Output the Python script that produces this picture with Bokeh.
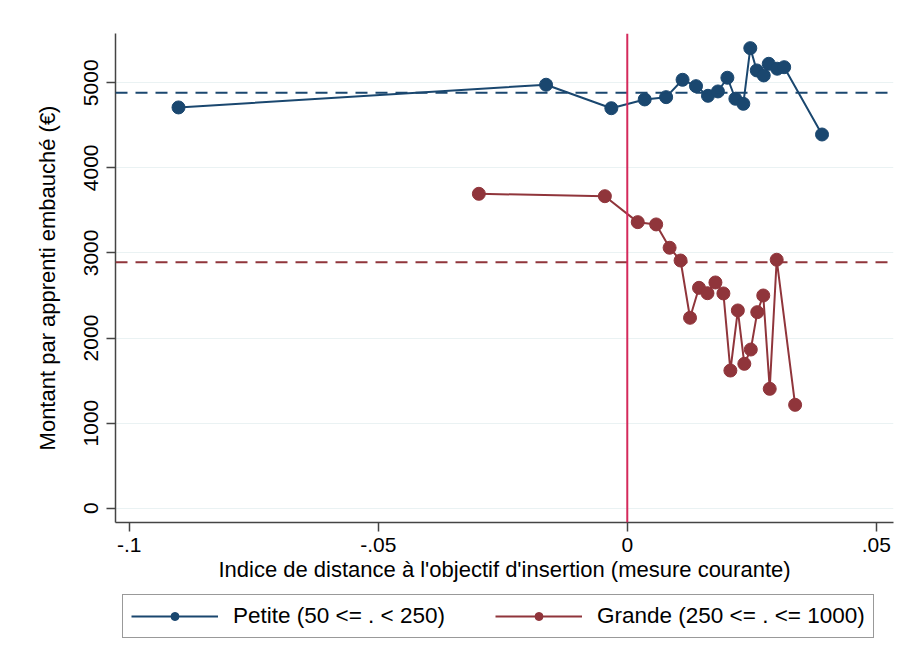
from bokeh.plotting import figure
from bokeh.layouts import column
from bokeh.models import (Span, Legend, LegendItem, FixedTicker, Range1d)
from bokeh.embed import file_html
from bokeh.resources import INLINE

# ---- data ----
petite_x = [-0.0901, -0.0163, -0.0032, 0.0035, 0.0078, 0.0111, 0.0138, 0.0162,
            0.0182, 0.0201, 0.0217, 0.0233, 0.0247, 0.0260, 0.0274, 0.0284,
            0.0301, 0.0315, 0.0391]
petite_y = [4710, 4977, 4701, 4804, 4831, 5035, 4960, 4847,
            4898, 5059, 4812, 4753, 5407, 5145, 5086, 5223,
            5165, 5183, 4392]
grande_x = [-0.0298, -0.0045, 0.0021, 0.0058, 0.0085, 0.0107, 0.0126, 0.0144,
            0.0161, 0.0177, 0.0193, 0.0207, 0.0222, 0.0235, 0.0248, 0.0261,
            0.0273, 0.0286, 0.0300, 0.0337]
grande_y = [3695, 3667, 3362, 3335, 3061, 2911, 2238, 2590,
            2527, 2653, 2524, 1618, 2324, 1697, 1865, 2304,
            2500, 1403, 2920, 1215]
petite_mean = 4882
grande_mean = 2891
threshold = 0.0

x_ticks = [-0.1, -0.05, 0.0, 0.05]
x_tick_labels = ["-.1", "-.05", "0", ".05"]
y_ticks = [0, 1000, 2000, 3000, 4000, 5000]

label_petite = "Petite (50 <= . < 250)"
label_grande = "Grande (250 <= . <= 1000)"
x_title = "Indice de distance à l'objectif d'insertion (mesure courante)"
y_title = "Montant par apprenti embauché (€)"

BLUE = "#1a476f"
RED = "#90353b"
VLINE = "#d42a5c"
FONT = "Liberation Sans"

p = figure(width=896, height=590, output_backend="svg",
           toolbar_location=None,
           x_range=Range1d(-0.10275, 0.05345), y_range=Range1d(-168, 5579),
           min_border_left=115, min_border_right=3, min_border_top=33,
           min_border_bottom=68)
p.outline_line_color = None
p.background_fill_color = "white"
p.border_fill_color = "white"

# grid
p.xgrid.grid_line_color = None
p.ygrid.grid_line_color = "#eaf2f3"
p.ygrid.grid_line_width = 1.2

# axes
p.xaxis.ticker = FixedTicker(ticks=x_ticks)
p.xaxis.major_label_overrides = {t: l for t, l in zip(x_ticks, x_tick_labels)}
p.yaxis.ticker = FixedTicker(ticks=y_ticks)
for ax in (p.xaxis[0], p.yaxis[0]):
    ax.axis_line_color = "#444444"
    ax.axis_line_width = 1.5
    ax.major_tick_line_color = "#444444"
    ax.major_tick_line_width = 1.5
    ax.major_tick_out = 9
    ax.major_tick_in = 0
    ax.minor_tick_line_color = None
    ax.major_label_text_font = FONT
    ax.major_label_text_font_size = "21px"
    ax.major_label_text_color = "black"
    ax.axis_label_text_font = FONT
    ax.axis_label_text_font_size = "22px"
    ax.axis_label_text_font_style = "normal"
    ax.axis_label_text_color = "black"
p.xaxis.axis_label = x_title
p.yaxis.axis_label = y_title
p.yaxis.major_label_orientation = "vertical"
p.xaxis.major_label_standoff = 6
p.xaxis.axis_label_standoff = 2
p.yaxis.major_label_standoff = 8
p.yaxis.axis_label_standoff = 22

# reference lines
p.add_layout(Span(location=petite_mean, dimension="width", line_color=BLUE,
                  line_width=2, line_dash="12 8"))
p.add_layout(Span(location=grande_mean, dimension="width", line_color=RED,
                  line_width=2, line_dash="12 8"))
p.add_layout(Span(location=threshold, dimension="height", line_color=VLINE,
                  line_width=2))

# series
p.line(petite_x, petite_y, line_color=BLUE, line_width=2)
p.scatter(petite_x, petite_y, size=13, fill_color=BLUE, line_color=BLUE)
p.line(grande_x, grande_y, line_color=RED, line_width=2)
p.scatter(grande_x, grande_y, size=13, fill_color=RED, line_color=RED)

# ---- legend strip (separate figure placed under the plot) ----
# the same series are drawn here outside the visible range, only to key the legend
lg = figure(width=896, height=76, output_backend="svg", toolbar_location=None,
            x_axis_location=None, y_axis_location=None, min_border=0,
            x_range=Range1d(10, 11), y_range=Range1d(10, 11))
lg.outline_line_color = None
lg.grid.visible = False
lg.border_fill_color = "white"
kl1 = lg.line(petite_x, petite_y, line_color=BLUE, line_width=2)
ks1 = lg.scatter(petite_x, petite_y, size=13, fill_color=BLUE, line_color=BLUE)
kl2 = lg.line(grande_x, grande_y, line_color=RED, line_width=2)
ks2 = lg.scatter(grande_x, grande_y, size=13, fill_color=RED, line_color=RED)

legend = Legend(items=[LegendItem(label=label_petite, renderers=[kl1, ks1]),
                       LegendItem(label=label_grande, renderers=[kl2, ks2])],
                orientation="horizontal", location=(7, 28))
legend.label_text_font = FONT
legend.label_text_font_size = "22.5px"
legend.label_text_color = "black"
legend.glyph_width = 87
legend.glyph_height = 20
legend.label_standoff = 15
legend.spacing = 50
legend.padding = 8
legend.margin = 0
legend.border_line_color = "#333333"
legend.border_line_width = 1.5
legend.background_fill_color = "white"
lg.add_layout(legend)

layout = column(p, lg, spacing=0)
open("out.html", "w").write(file_html(layout, INLINE))
